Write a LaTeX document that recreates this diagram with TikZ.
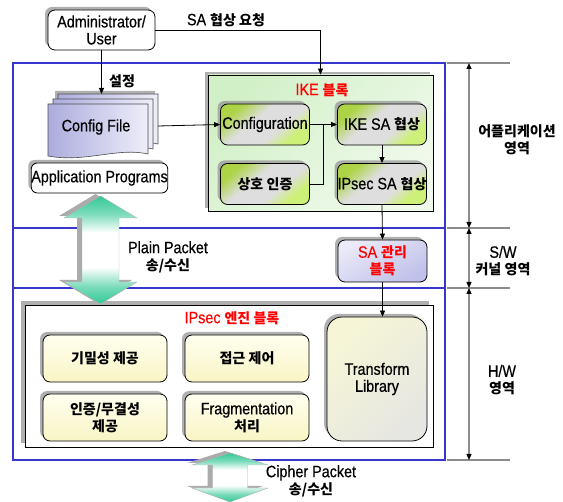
\documentclass[tikz,border=0pt]{standalone}
\usepackage{fontspec}
\setmainfont{Liberation Sans}[FakeStretch=0.87,FakeBold=0.5]
\newfontfamily\kr{Noto Sans CJK KR}[Scale=0.85]
\newcommand{\kor}[1]{{\kr\bfseries #1}}
\usetikzlibrary{shadows,arrows.meta,calc}
\definecolor{regblue}{RGB}{55,55,205}
\definecolor{dimgray}{RGB}{140,140,140}
\definecolor{greenL}{RGB}{172,212,70}
\definecolor{greenR}{RGB}{205,240,120}
\definecolor{greyL}{RGB}{222,222,222}
\definecolor{ikeA}{RGB}{210,240,200}
\definecolor{ikeB}{RGB}{240,250,236}
\definecolor{yelT}{RGB}{255,255,240}
\definecolor{yelB}{RGB}{248,245,196}
\definecolor{trT}{RGB}{246,246,214}
\definecolor{trB}{RGB}{230,230,226}
\definecolor{saT}{RGB}{234,234,248}
\definecolor{saB}{RGB}{192,192,234}
\definecolor{cfgL}{RGB}{172,172,222}
\definecolor{cfgR}{RGB}{238,238,250}
\definecolor{arrG}{RGB}{50,200,150}
\definecolor{shad}{RGB}{150,150,150}
\definecolor{kred}{RGB}{255,0,0}
\pgfdeclareverticalshading{dblarrow}{100bp}{color(0bp)=(arrG); color(25bp)=(arrG); color(33bp)=(arrG!65!white); color(42bp)=(white); color(58bp)=(white); color(67bp)=(arrG!65!white); color(75bp)=(arrG); color(100bp)=(arrG)}
\pgfdeclareverticalshading{greenshade}{100bp}{color(0bp)=(greenR); color(28bp)=(greenR); color(40bp)=(greyL); color(58bp)=(greyL); color(74bp)=(greenL); color(100bp)=(greenL)}
\tikzset{
  txt/.style={font=\fontsize{16.5}{17}\selectfont, align=center, inner sep=0pt},
  shadowed/.style={drop shadow={shadow xshift=-3pt, shadow yshift=3pt, fill=shad, opacity=0.75}},
  box/.style={txt, draw=black, line width=0.8pt, rounded corners=7pt, shadowed},
  whitebox/.style={box, fill=white},
  greenbox/.style={box, shading=greenshade, shading angle=40, minimum width=89pt, minimum height=41pt},
  yelbox/.style={box, top color=yelT, bottom color=yelB, minimum width=124pt, minimum height=47pt},
  conn/.style={line width=0.8pt, draw=black},
  arr/.style={conn, -{Triangle[length=6pt,width=5pt]}},
  dim/.style={draw=dimgray, line width=1.3pt, {Triangle[length=6pt,width=5pt,color=black]}-{Triangle[length=6pt,width=5pt,color=black]}},
  regline/.style={draw=dimgray, line width=1.3pt},
  redtxt/.style={txt, text=kred},
  bigarrow/.style={shading=dblarrow, draw=gray!60, line width=0.4pt},
  cfgpage/.style={draw=black!70, line width=0.6pt, left color=cfgL, right color=cfgR},
}
\begin{document}
\begin{tikzpicture}[x=1pt,y=-1pt]
\useasboundingbox (0,0) rectangle (563,502);
% region frame
\draw[regblue, line width=1.6pt] (13,63) rectangle (445,460);
\draw[regblue, line width=1.6pt] (13,228) -- (445,228);
\draw[regblue, line width=1.6pt] (13,288) -- (445,288);
% right dimension lines
\foreach \yy in {63,228,288,460} \draw[regline] (447,\yy) -- (510,\yy);
\coordinate (d1) at (469,63);
\coordinate (d2) at (469,228);
\coordinate (d3) at (469,288);
\coordinate (d4) at (469,460);
\draw[dim] (d1) -- (d2);
\draw[dim] (d2) -- (d3);
\draw[dim] (d3) -- (d4);
\node[txt] (rapp) at (517,140) {\kor{어플리케이션}\\\kor{영역}};
\node[txt] (rsw) at (503,261) {S/W\\\kor{커널 영역}};
\node[txt] (rhw) at (502,380) {H/W\\\kor{영역}};
% admin
\node[whitebox, minimum width=107pt, minimum height=40pt] (admin) at (101.5,30) {Administrator/\\User};
\node[txt] (req) at (226,20) {SA \kor{협상 요청}};
% config file pages
\begin{scope}[shift={(10,-10)}]
\path[cfgpage, shadowed] (48,104) -- (148,104) -- (148,154) .. controls (118,147) and (85,163) .. (48,156) -- cycle;
\end{scope}
\begin{scope}[shift={(5,-5)}]
\path[cfgpage] (48,104) -- (148,104) -- (148,154) .. controls (118,147) and (85,163) .. (48,156) -- cycle;
\end{scope}
\path[cfgpage] (48,104) -- (148,104) -- (148,154) .. controls (118,147) and (85,163) .. (48,156) -- cycle;
\node[txt] (cfg) at (96,127) {Config File};
\coordinate (cfgtop) at (101.5,94);
\coordinate (cfgout) at (158,126);
\node[txt] (setlbl) at (122,81) {\kor{설정}};
\node[whitebox, rounded corners=6pt, minimum width=135pt, minimum height=30pt] (app) at (99.5,178) {Application Programs};
% IKE block
\node[draw=black, line width=0.8pt, top color=ikeA, bottom color=ikeB, shading angle=45, shadowed, minimum width=225pt, minimum height=136pt, inner sep=0pt] (ike) at (320.5,143) {};
\node[redtxt] (iketitle) at (322,90) {IKE \kor{블록}};
\node[greenbox] (conf) at (265,124.5) {Configuration};
\node[greenbox] (ikesa) at (382,124.5) {IKE SA \kor{협상}};
\node[greenbox] (auth) at (265,184) {\kor{상호 인증}};
\node[greenbox] (ipsecsa) at (382,184) {IPsec SA \kor{협상}};
% SA mgmt
\node[box, top color=saT, bottom color=saB, shading angle=30, minimum width=89pt, minimum height=42pt, text=kred] (samgmt) at (382.5,261) {SA \kor{관리}\\\kor{블록}};
% IPsec engine block
\node[draw=black, line width=0.8pt, fill=white, drop shadow={shadow xshift=-4pt, shadow yshift=4pt, fill=shad, opacity=0.75}, minimum width=408pt, minimum height=142pt, inner sep=0pt] (eng) at (229,376) {};
\node[redtxt] (engtitle) at (232,318) {IPsec \kor{엔진 블록}};
\node[yelbox] (conf1) at (105,358.5) {\kor{기밀성 제공}};
\node[yelbox] (acc) at (247,358.5) {\kor{접근 제어}};
\node[yelbox] (integ) at (105,417.5) {\kor{인증/무결성}\\\kor{제공}};
\node[yelbox] (frag) at (247,417.5) {Fragmentation\\\kor{처리}};
\node[box, rounded corners=15pt, top color=trT, bottom color=trB, shading angle=45, minimum width=100pt, minimum height=124pt] (trlib) at (377,379) {Transform\\Library};
% connectors
\draw[arr] (admin.east) -| (ike.north);
\draw[arr] (admin.south) -- (cfgtop);
\draw[arr] (cfgout) -- (conf.west);
\draw[arr] (conf.east) -- (ikesa.west);
\coordinate (join) at (323,124.5);
\draw[conn] (auth.east) -| (join);
\draw[arr] (ikesa.south) -- (ipsecsa.north);
\draw[arr] (ipsecsa.south) -- (samgmt.north);
\draw[arr] (samgmt.south) -- (samgmt.south |- trlib.north);
% Plain packet big arrow
\begin{scope}[shift={(-5,-2)}]
\fill[shad!80] (100.5,196) -- (137,218) -- (119,218) -- (119,282) -- (137,282) -- (100.5,304) -- (64,282) -- (82,282) -- (82,218) -- (64,218) -- cycle;
\end{scope}
\path[bigarrow] (100.5,196) -- (137,218) -- (119,218) -- (119,282) -- (137,282) -- (100.5,304) -- (64,282) -- (82,282) -- (82,218) -- (64,218) -- cycle;
\node[txt] (plain) at (168,257) {Plain Packet\\\kor{송/수신}};
% Cipher packet big arrow
\begin{scope}[shift={(-5,-2)}]
\fill[shad!80] (230,453) -- (268,465) -- (247.5,465) -- (247.5,488) -- (268,488) -- (230,502) -- (192,488) -- (212.5,488) -- (212.5,465) -- (192,465) -- cycle;
\end{scope}
\path[bigarrow] (230,453) -- (268,465) -- (247.5,465) -- (247.5,488) -- (268,488) -- (230,502) -- (192,488) -- (212.5,488) -- (212.5,465) -- (192,465) -- cycle;
\node[txt] (cipher) at (311,481) {Cipher Packet\\\kor{송/수신}};
\end{tikzpicture}
\end{document}
